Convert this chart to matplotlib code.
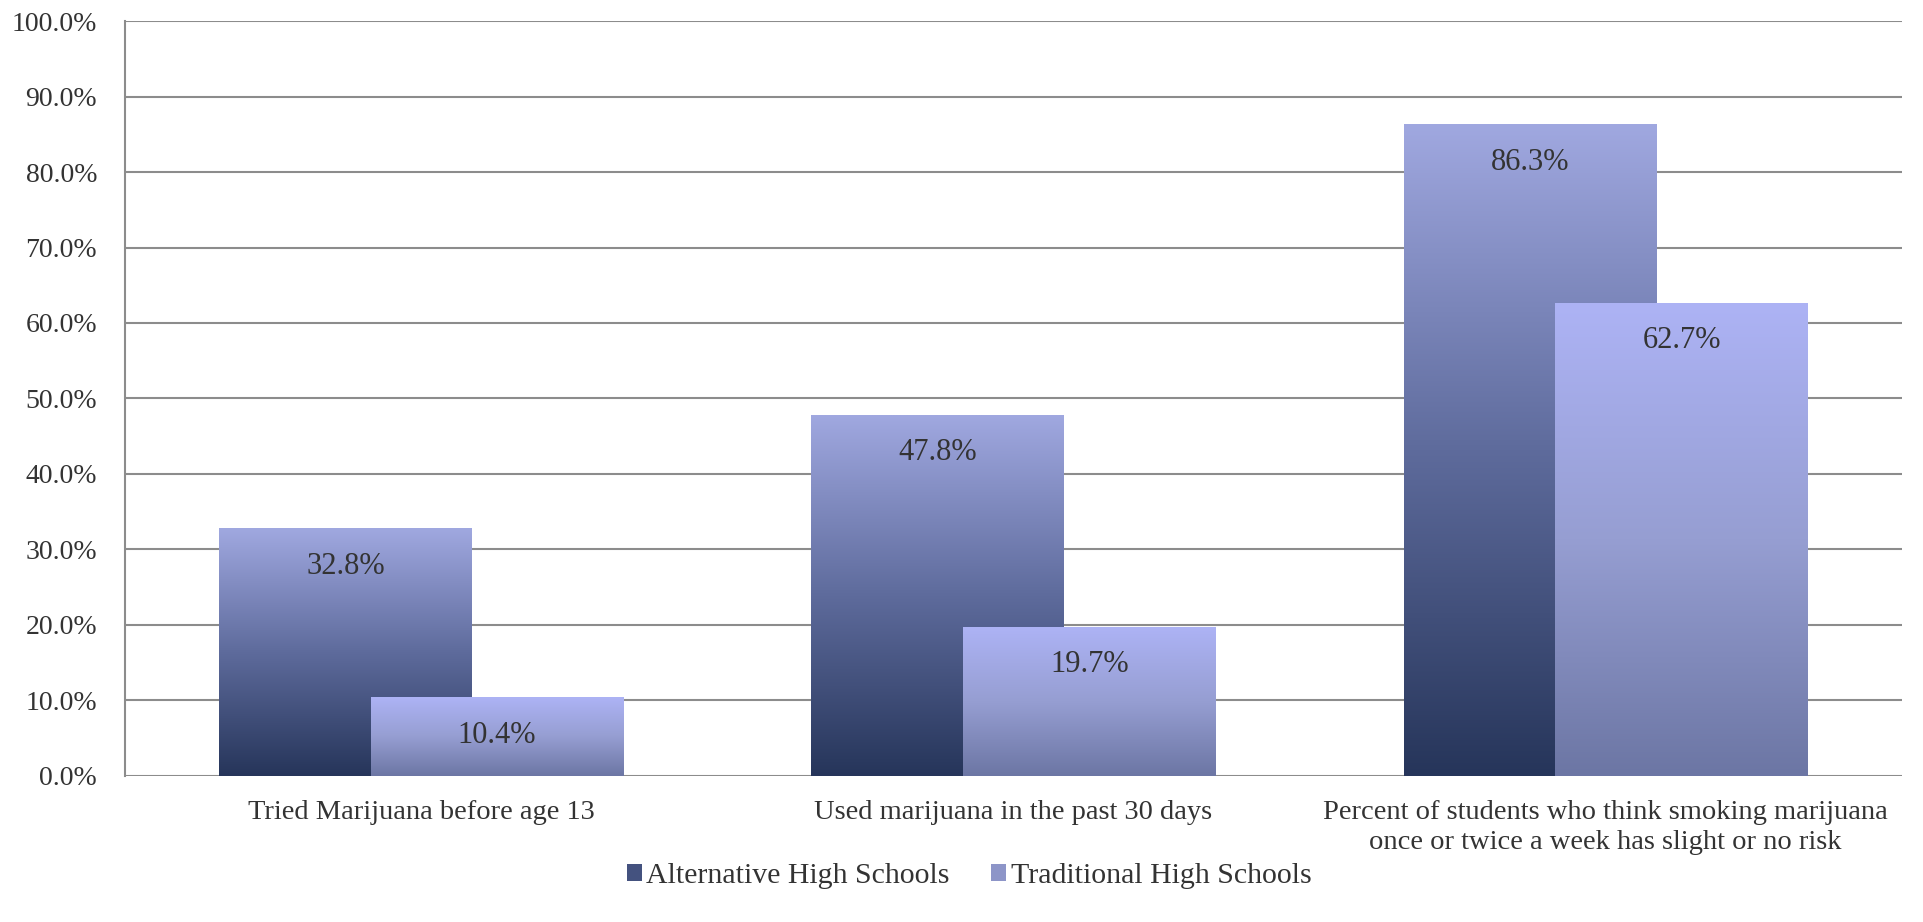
import numpy as np
import matplotlib
matplotlib.use("Agg")
import matplotlib.pyplot as plt
from matplotlib.colors import LinearSegmentedColormap
from matplotlib.patches import Patch

plt.rcParams['font.family'] = ['Liberation Serif', 'DejaVu Serif']

categories = ["Tried Marijuana before age 13",
              "Used marijuana in the past 30 days",
              "Percent of students who think smoking marijuana\nonce or twice a week has slight or no risk"]
series_names = ["Alternative High Schools", "Traditional High Schools"]
alternative = [32.8, 47.8, 86.3]
traditional = [10.4, 19.7, 62.7]
y_ticks = [0, 10, 20, 30, 40, 50, 60, 70, 80, 90, 100]

alt_cmap = LinearSegmentedColormap.from_list("alt", ["#26355a", "#5e6b9c", "#a0a8e0"])
trad_cmap = LinearSegmentedColormap.from_list("trad", ["#6c76a4", "#969ed2", "#adb3f5"])
text_col = "#333333"
grid_col = "#8c8c8c"

fig = plt.figure(figsize=(19.23, 9.22), dpi=100)
ax = fig.add_axes([0.065, 0.1584, 0.924, 0.8188])

x = np.arange(len(categories))
width = 0.426
off = 0.128

ax.set_xlim(-0.5, len(categories) - 0.5)
ax.set_ylim(0, 100)
ax.set_yticks(y_ticks)
ax.set_yticklabels([f"{v:.1f}%" for v in y_ticks])
ax.yaxis.grid(True, color=grid_col, linewidth=1.5)
ax.set_axisbelow(True)
for s in ["top", "right", "bottom"]:
    ax.spines[s].set_visible(False)
ax.spines["left"].set_color(grid_col)
ax.spines["left"].set_linewidth(1.5)
ax.tick_params(axis="both", length=0, labelsize=20, colors=text_col)
ax.tick_params(axis="y", pad=20)
ax.tick_params(axis="x", pad=17)
ax.set_xticks(x)
ax.set_xticklabels(categories, fontsize=20.5, color=text_col, linespacing=1.3)

grad = np.linspace(0, 1, 256).reshape(-1, 1)


def gradient_bars(xs, vals, cmap, z):
    bars = ax.bar(xs, vals, width=width, color="none", edgecolor="none", zorder=z)
    for b in bars:
        x0, y0 = b.get_x(), b.get_y()
        w, h = b.get_width(), b.get_height()
        im = ax.imshow(grad, cmap=cmap, origin="lower", aspect="auto",
                       extent=[x0, x0 + w, y0, y0 + h], zorder=z)
        im.set_clip_path(b)
    for xi, v in zip(xs, vals):
        ax.text(xi, v - 5, f"{v:.1f}%", ha="center", va="center",
                fontsize=22, color=text_col, zorder=z + 1)
    return bars


gradient_bars(x - off, alternative, alt_cmap, 3)
gradient_bars(x + off, traditional, trad_cmap, 5)
ax.set_xlim(-0.5, len(categories) - 0.5)
ax.set_ylim(0, 100)

handles = [Patch(facecolor="#44527f"), Patch(facecolor="#8d95c8")]
fig.legend(handles, series_names, loc="center", bbox_to_anchor=(0.504, 0.05),
           ncol=2, frameon=False, fontsize=21.5, handlelength=0.5, handleheight=0.5,
           handletextpad=0.15, columnspacing=1.4, labelcolor=text_col)

fig.savefig("out.png", dpi=100, facecolor="white")
